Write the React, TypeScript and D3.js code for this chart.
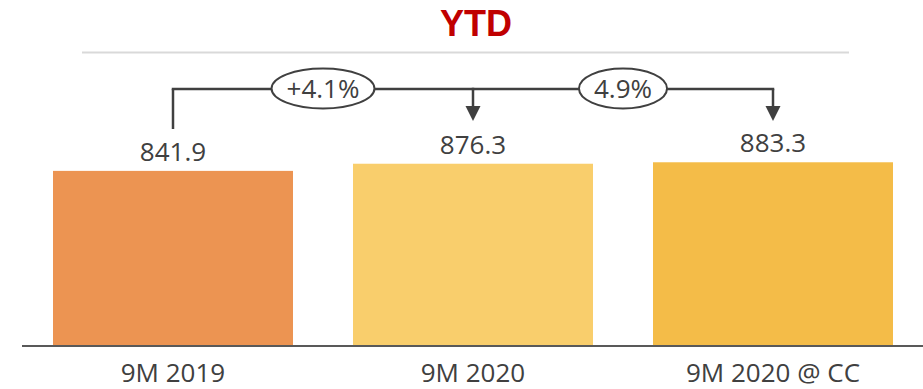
import React, { useEffect, useRef } from "react";
import * as d3 from "d3";

const categories = ["9M 2019", "9M 2020", "9M 2020 @ CC"];
const values = [841.9, 876.3, 883.3];
const valueLabels = ["841.9", "876.3", "883.3"];
const barColors = ["#EC9452", "#F9CE6C", "#F4BC48"];
const changeLabels = ["+4.1%", "4.9%"];
const changeFrom = [0, 0];
const changeTo = [1, 2];
const title = "YTD";

const W = 923;
const H = 389;
const baseline = 346;
const FONT = "'Open Sans', sans-serif";
const TEXT = "#404040";

export default function App() {
  const ref = useRef<SVGSVGElement>(null);

  useEffect(() => {
    const svg = d3.select(ref.current!);
    svg.selectAll("*").remove();

    const x = d3
      .scaleBand<string>()
      .domain(categories)
      .range([23, 923])
      .paddingInner(0.2)
      .paddingOuter(0.1);
    const y = d3.scaleLinear().domain([0, 1000]).range([baseline, baseline - 208]);
    const cx = (i: number) => (x(categories[i]) as number) + x.bandwidth() / 2;

    // title
    svg
      .append("text")
      .attr("x", 476)
      .attr("y", 36)
      .attr("text-anchor", "middle")
      .attr("font-family", "'Liberation Sans', Arial, sans-serif")
      .attr("font-weight", "bold")
      .attr("font-size", 36)
      .attr("fill", "#C00000")
      .text(title);

    svg
      .append("line")
      .attr("x1", 82)
      .attr("x2", 849)
      .attr("y1", 52.5)
      .attr("y2", 52.5)
      .attr("stroke", "#D9D9D9")
      .attr("stroke-width", 2);

    // bars
    svg
      .selectAll("rect.bar")
      .data(values)
      .join("rect")
      .attr("class", "bar")
      .attr("x", (_, i) => x(categories[i]) as number)
      .attr("width", x.bandwidth())
      .attr("y", (d) => y(d))
      .attr("height", (d) => baseline - y(d))
      .attr("fill", (_, i) => barColors[i]);

    // axis line
    svg
      .append("line")
      .attr("x1", 22)
      .attr("x2", 923)
      .attr("y1", baseline)
      .attr("y2", baseline)
      .attr("stroke", "#595959")
      .attr("stroke-width", 2);

    // value labels
    svg
      .selectAll("text.val")
      .data(values)
      .join("text")
      .attr("class", "val")
      .attr("x", (_, i) => cx(i))
      .attr("y", (d) => y(d) - 10)
      .attr("text-anchor", "middle")
      .attr("font-family", FONT)
      .attr("font-size", 26)
      .attr("fill", TEXT)
      .text((_, i) => valueLabels[i]);

    // category labels
    svg
      .selectAll("text.cat")
      .data(categories)
      .join("text")
      .attr("class", "cat")
      .attr("x", (_, i) => cx(i))
      .attr("y", 382)
      .attr("text-anchor", "middle")
      .attr("font-family", FONT)
      .attr("font-size", 26)
      .attr("fill", TEXT)
      .text((d) => d);

    // brackets
    const lineY = 89;
    const g = svg.append("g");
    // start vertical from first bar
    g.append("line")
      .attr("x1", cx(0))
      .attr("x2", cx(0))
      .attr("y1", 129)
      .attr("y2", lineY)
      .attr("stroke", TEXT)
      .attr("stroke-width", 2.5);
    changeLabels.forEach((lab, k) => {
      const a = cx(changeFrom[k] === 0 && k > 0 ? changeTo[k - 1] : changeFrom[k]);
      const b = cx(changeTo[k]);
      g.append("line")
        .attr("x1", a - 1.25)
        .attr("x2", b + 1.25)
        .attr("y1", lineY)
        .attr("y2", lineY)
        .attr("stroke", TEXT)
        .attr("stroke-width", 2.5);
      g.append("line")
        .attr("x1", b)
        .attr("x2", b)
        .attr("y1", lineY)
        .attr("y2", 108)
        .attr("stroke", TEXT)
        .attr("stroke-width", 2.5);
      g.append("path")
        .attr("d", `M${b - 7.5},106 L${b + 7.5},106 L${b},121 Z`)
        .attr("fill", TEXT);
      const mx = (a + b) / 2;
      const ell = g
        .append("ellipse")
        .attr("cx", mx)
        .attr("cy", lineY - 0.5)
        .attr("ry", 20)
        .attr("fill", "#fff")
        .attr("stroke", TEXT)
        .attr("stroke-width", 2);
      const t = g
        .append("text")
        .attr("x", mx)
        .attr("y", lineY + 9)
        .attr("text-anchor", "middle")
        .attr("font-family", FONT)
        .attr("font-size", 26)
        .attr("fill", TEXT)
        .text(lab);
      const tw = (t.node() as SVGTextElement).getComputedTextLength();
      ell.attr("rx", tw / 2 + 15);
    });
  }, []);

  return (
    <svg
      ref={ref}
      width={W}
      height={H}
      style={{ position: "absolute", left: 0, top: 0, display: "block" }}
    />
  );
}
